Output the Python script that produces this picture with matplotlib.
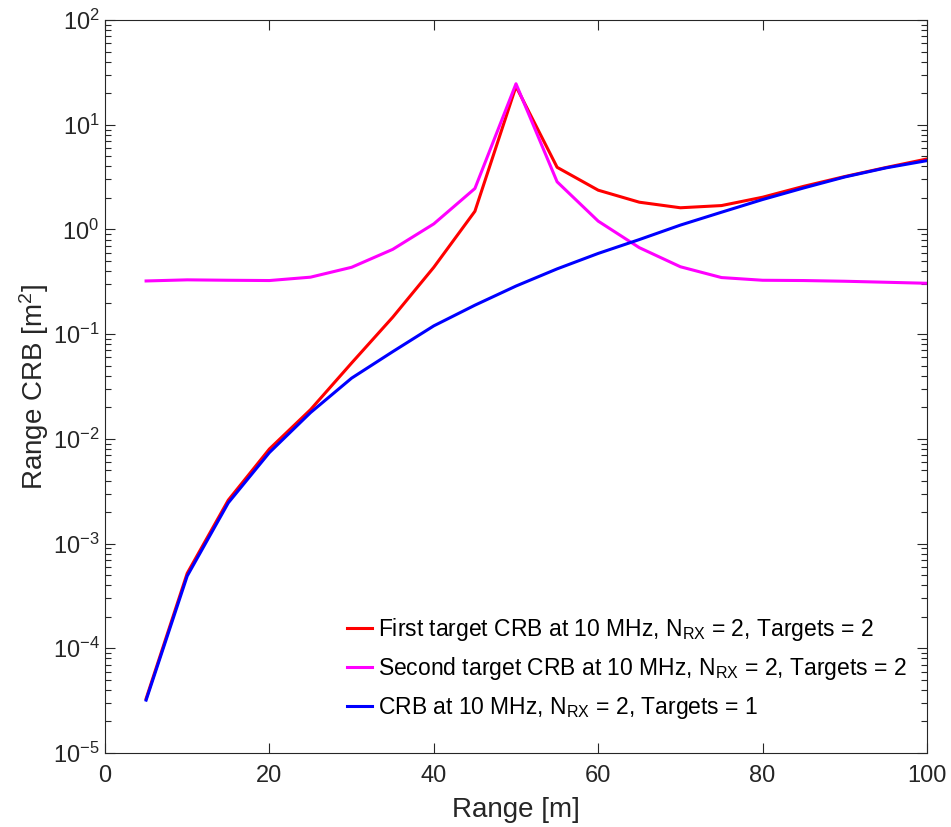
import numpy as np
import matplotlib
matplotlib.use('Agg')
import matplotlib.pyplot as plt
from matplotlib.ticker import LogLocator, NullFormatter

plt.rcParams['font.family'] = ['Liberation Sans', 'DejaVu Sans']
plt.rcParams['mathtext.fontset'] = 'custom'
plt.rcParams['mathtext.rm'] = 'Liberation Sans'
plt.rcParams['mathtext.it'] = 'Liberation Sans'

rng = [5, 10, 15, 20, 25, 30, 35, 40, 45, 50, 55, 60, 65, 70, 75, 80, 85, 90, 95, 100]
first_crb = [3.3e-5, 5.2e-4, 2.6e-3, 8.0e-3, 1.9e-2, 5.3e-2, 0.145, 0.435, 1.49, 23.2,
             3.92, 2.37, 1.82, 1.61, 1.69, 2.03, 2.58, 3.2, 3.9, 4.71]
second_crb = [0.322, 0.33, 0.327, 0.325, 0.35, 0.435, 0.645, 1.13, 2.46, 24.6,
              2.85, 1.2, 0.67, 0.44, 0.347, 0.327, 0.325, 0.32, 0.313, 0.306]
single_crb = [3.2e-5, 4.9e-4, 2.45e-3, 7.4e-3, 1.78e-2, 3.8e-2, 6.8e-2, 0.12, 0.189, 0.288,
              0.42, 0.59, 0.80, 1.10, 1.46, 1.93, 2.49, 3.17, 3.87, 4.54]

labels = ['First target CRB at 10 MHz, N$_{\\mathrm{RX}}$ = 2, Targets = 2',
          'Second target CRB at 10 MHz, N$_{\\mathrm{RX}}$ = 2, Targets = 2',
          'CRB at 10 MHz, N$_{\\mathrm{RX}}$ = 2, Targets = 1']

fig = plt.figure(figsize=(9.51, 8.27), dpi=100)
ax = fig.add_axes([105/951, 1 - 753/827, 822/951, 733/827])

ax.semilogy(rng, first_crb, color='#ff0000', linewidth=2.2, label=labels[0])
ax.semilogy(rng, second_crb, color='#ff00ff', linewidth=2.2, label=labels[1])
ax.semilogy(rng, single_crb, color='#0000ff', linewidth=2.2, label=labels[2])

ax.set_xlim(0, 100)
ax.set_ylim(1e-5, 1e2)
ax.set_xticks(np.arange(0, 101, 20))
ax.yaxis.set_major_locator(LogLocator(base=10, numticks=10))
ax.yaxis.set_minor_locator(LogLocator(base=10, subs=np.arange(2, 10), numticks=20))
ax.yaxis.set_minor_formatter(NullFormatter())
ax.xaxis.offsetText.set_visible(False)
ax.yaxis.offsetText.set_visible(False)

ax.tick_params(axis='both', which='both', direction='in', top=True, right=True,
               colors='#262626', labelsize=17, labelcolor='#262626')
ax.tick_params(which='major', length=7, width=0.8)
ax.tick_params(which='minor', length=4, width=0.8)
ax.tick_params(axis='x', pad=9)
ax.tick_params(axis='y', pad=4)
for s in ax.spines.values():
    s.set_color('#262626')
    s.set_linewidth(0.8)

ax.set_xlabel('Range [m]', fontsize=20, color='#262626', labelpad=7)
ax.set_ylabel('Range CRB [m$^2$]', fontsize=20, color='#262626', labelpad=1)

ax.legend(loc='lower right', frameon=False, fontsize=16.5, handlelength=1.1,
          handletextpad=0.26, labelspacing=0.54, bbox_to_anchor=(1.0, 0.016))

plt.savefig('out.png', dpi=100)
